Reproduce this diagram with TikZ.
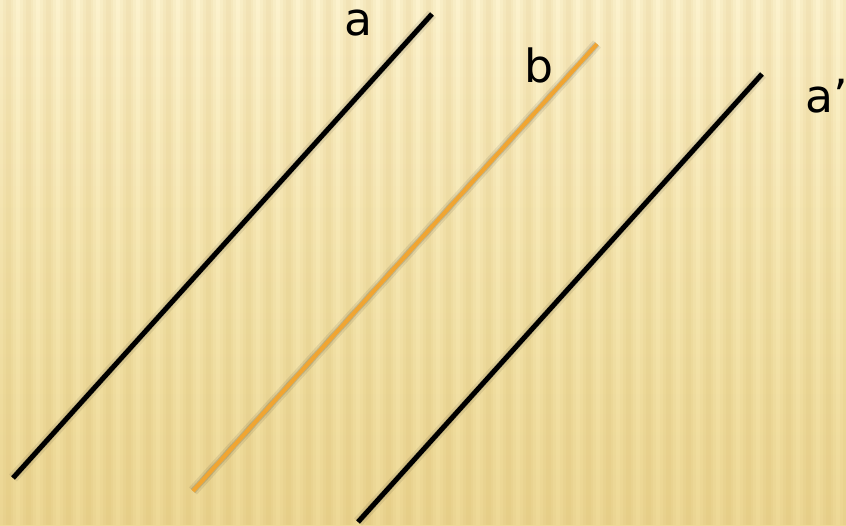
\documentclass[tikz,border=0pt]{standalone}
\usepackage{fontspec}
\setmainfont{DejaVu Sans}
\definecolor{bgtop}{RGB}{252,242,205}
\definecolor{bgmid}{RGB}{245,230,176}
\definecolor{bgbot}{RGB}{238,217,150}
\definecolor{stripecol}{RGB}{200,160,70}
\definecolor{lineorange}{RGB}{240,165,50}

\begin{document}
\begin{tikzpicture}[
    stripe/.style={fill=stripecol, fill opacity=0.06},
    seg/.style={line width=2.8pt, line cap=butt},
    shadowseg/.style={line width=6pt, draw=black, draw opacity=0.08, shift={(0.06,-0.08)}},
    lbl/.style={anchor=base, font=\fontsize{26}{30}\selectfont, inner sep=0pt}
]
    \useasboundingbox (0,0) rectangle (16.92,10.5);
    \shade[top color=bgtop, bottom color=bgbot, middle color=bgmid] (0,0) rectangle (16.92,10.5);
    \foreach \x in {0,0.4,...,16.8} {
        \fill[stripe] (\x,0) rectangle ++(0.32,10.5);
        \fill[stripe] (\x+0.06,0) rectangle ++(0.2,10.5);
        \fill[stripe] (\x+0.11,0) rectangle ++(0.1,10.5);
    }

    \coordinate (aBot) at (0.26,0.94);
    \coordinate (aTop) at (8.64,10.22);
    \coordinate (bBot) at (3.86,0.68);
    \coordinate (bTop) at (11.94,9.62);
    \coordinate (cBot) at (7.16,0.06);
    \coordinate (cTop) at (15.24,9.02);

    \foreach \p in {a,b,c} {
        \draw[shadowseg] (\p Bot) -- (\p Top);
        \draw[shadowseg, line width=3.5pt, draw opacity=0.12] (\p Bot) -- (\p Top);
    }

    \draw[seg, black] (aBot) -- (aTop);
    \draw[seg, lineorange, line width=2.3pt] (bBot) -- (bTop);
    \draw[seg, black] (cBot) -- (cTop);

    \node[lbl] (la) at (7.17,9.78) {a};
    \node[lbl] (lb) at (10.78,8.84) {b};
    \node[lbl] (lc) at (16.54,8.24) {a’};
\end{tikzpicture}
\end{document}
